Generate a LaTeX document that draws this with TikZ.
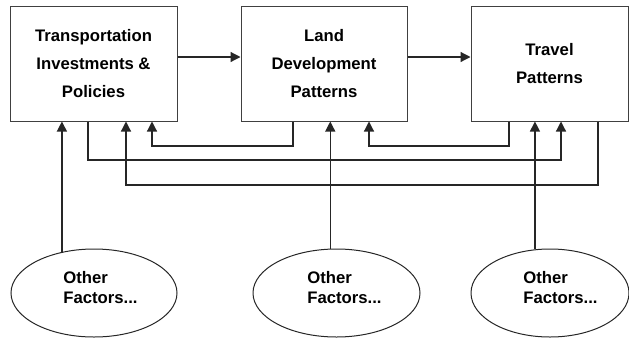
\documentclass[tikz,border=0pt]{standalone}
\usepackage{fontspec}
\setmainfont{Liberation Sans}
\usetikzlibrary{arrows.meta,shapes.geometric}
\begin{document}
\begin{tikzpicture}[x=1pt,y=-1pt,
  box/.style={draw=black!75, line width=1pt, rectangle, inner sep=0pt,
    font=\bfseries\fontsize{16.7}{28}\selectfont, align=center, minimum height=115pt},
  factor/.style={draw=black!85, line width=1pt, ellipse, inner sep=0pt, minimum height=88pt},
  factortext/.style={font=\bfseries\fontsize{16.7}{20}\selectfont, align=left, inner sep=0pt},
  link/.style={draw=black!85, line width=1.2pt, -{Triangle[length=10pt,width=10pt]}},
]
\useasboundingbox (0,0) rectangle (629,338);

% main chain
\node[box, minimum width=167pt] (b1) at (93.5,63.5) {Transportation\\Investments \&\\Policies};
\node[box, minimum width=166pt] (b2) at (324,63.5) {Land\\Development\\Patterns};
\node[box, minimum width=157pt] (b3) at (549.5,63.5) {Travel\\Patterns};

% outside influences
\node[factor, minimum width=166pt] (e1) at (94,293) {};
\node[factor, minimum width=167pt] (e2) at (336.5,293) {};
\node[factor, minimum width=158pt] (e3) at (550,293) {};
\node[factortext] (t1) at (100.5,288) {Other\\Factors...};
\node[factortext] (t2) at (344.5,288) {Other\\Factors...};
\node[factortext] (t3) at (560.5,288) {Other\\Factors...};

% forward links
\draw[link] (b1.east |- 0,57) -- (b2.west |- 0,57);
\draw[link] (b2.east |- 0,57) -- (b3.west |- 0,57);

% feedback loops
\draw[link] (b2.south -| 293,0) |- (152,146) -- (b1.south -| 152,0);
\draw[link] (b1.south -| 88,0) |- (561,160) -- (b3.south -| 561,0);
\draw[link] (b3.south -| 598,0) |- (126,185) -- (b1.south -| 126,0);
\draw[link] (b3.south -| 509,0) |- (369,146) -- (b2.south -| 369,0);

% other factors feeding in
\draw[link] (e1.128) -- (e1.128 |- b1.south);
\draw[link] (e2.98) -- (e2.98 |- b2.south);
\draw[link] (e3.109) -- (e3.109 |- b3.south);
\end{tikzpicture}
\end{document}
